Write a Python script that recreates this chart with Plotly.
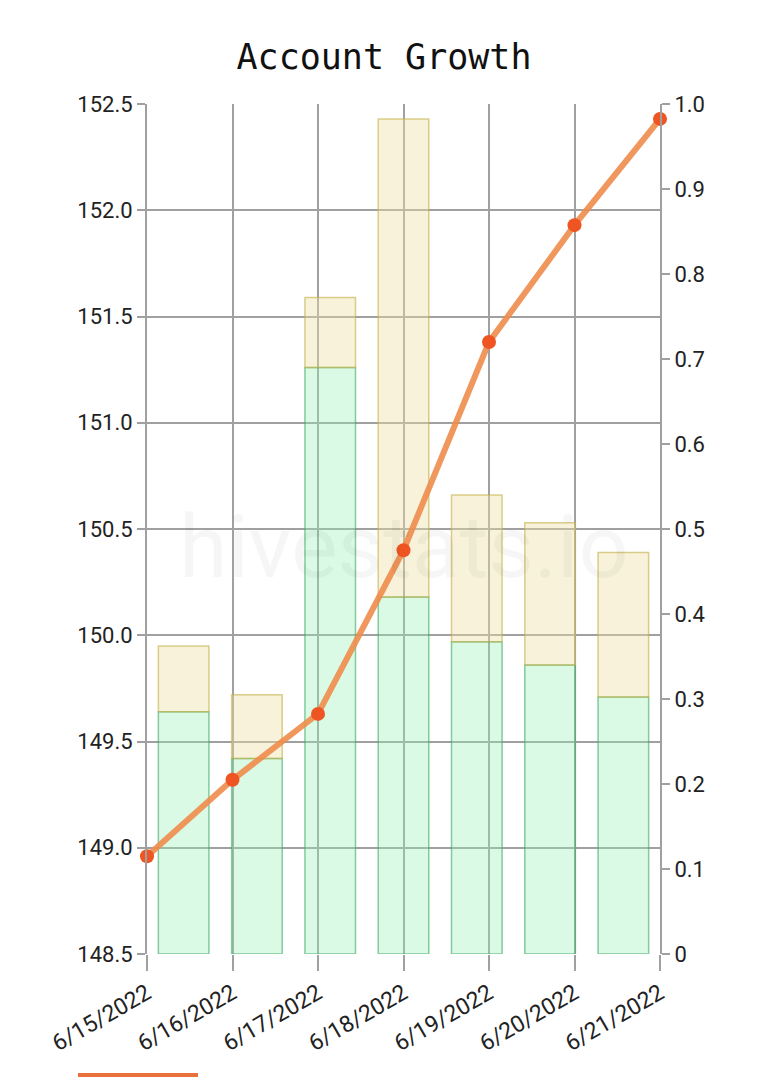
import plotly.graph_objects as go

dates = ["6/15/2022", "6/16/2022", "6/17/2022", "6/18/2022", "6/19/2022", "6/20/2022", "6/21/2022"]
account_value = [148.96, 149.32, 149.63, 150.40, 151.38, 151.93, 152.43]
green_top = [149.64, 149.42, 151.26, 150.18, 149.97, 149.86, 149.71]
yellow_top = [149.95, 149.72, 151.59, 152.43, 150.66, 150.53, 150.39]
base_value = 148.5
idx = list(range(len(dates)))

fig = go.Figure()
fig.add_trace(go.Bar(
    x=idx, y=[g - base_value for g in green_top], base=[base_value] * len(idx),
    width=0.69, marker=dict(color="rgba(150,240,180,0.35)",
                            line=dict(color="rgba(60,170,100,0.6)", width=1.5)),
    xaxis="x", yaxis="y", showlegend=False, hoverinfo="skip"))
fig.add_trace(go.Bar(
    x=idx, y=[y - g for y, g in zip(yellow_top, green_top)], base=green_top,
    width=0.69, marker=dict(color="rgba(235,222,160,0.4)",
                            line=dict(color="rgba(195,175,70,0.6)", width=1.5)),
    xaxis="x", yaxis="y", showlegend=False, hoverinfo="skip"))
fig.add_trace(go.Scatter(
    x=idx, y=account_value, mode="lines+markers", cliponaxis=False,
    line=dict(color="rgba(238,140,75,0.9)", width=6),
    marker=dict(color="#ee5522", size=14),
    xaxis="x2", yaxis="y", showlegend=False))
fig.add_trace(go.Scatter(x=[0], y=[0], xaxis="x2", yaxis="y2", mode="markers",
                         marker=dict(opacity=0), showlegend=False, hoverinfo="skip"))

grid = "#a0a0a0"
tf = dict(size=22, family="Roboto", color="#222")
fig.update_layout(
    width=768, height=1077,
    margin=dict(l=147, r=108, t=104, b=123),
    paper_bgcolor="white", plot_bgcolor="white",
    barmode="overlay",
    title=dict(text="Account Growth", x=0.5, xanchor="center", y=1 - 57 / 1077, yanchor="middle",
               font=dict(family="DejaVu Sans Mono", size=35, color="#111")),
    font=dict(family="Roboto", color="#222"),
    xaxis=dict(range=[-0.5, 6.5], showgrid=False, showticklabels=False, ticks="",
               zeroline=False, showline=False, fixedrange=True),
    xaxis2=dict(overlaying="x", range=[0, 6], tickmode="array", tickvals=idx, ticktext=dates,
                tickangle=-30, showgrid=True, gridcolor=grid, gridwidth=2,
                ticks="outside", ticklen=16, tickwidth=2, tickcolor=grid,
                tickfont=dict(size=23, family="Roboto", color="#222"), zeroline=False, side="bottom",
                anchor="y", showline=False),
    yaxis=dict(range=[148.5, 152.5], tickmode="array",
               tickvals=[148.5, 149.0, 149.5, 150.0, 150.5, 151.0, 151.5, 152.0, 152.5],
               ticktext=["148.5", "149.0", "149.5", "150.0", "150.5", "151.0", "151.5", "152.0", "152.5"],
               showgrid=True, gridcolor=grid, gridwidth=2, zeroline=False,
               ticks="outside", ticklen=8, tickwidth=2, tickcolor=grid,
               tickfont=tf, showline=True, linecolor=grid, linewidth=2),
    yaxis2=dict(range=[0, 1.0], overlaying="y", side="right", tickmode="array",
                tickvals=[0, 0.1, 0.2, 0.3, 0.4, 0.5, 0.6, 0.7, 0.8, 0.9, 1.0],
                ticktext=["0", "0.1", "0.2", "0.3", "0.4", "0.5", "0.6", "0.7", "0.8", "0.9", "1.0"],
                showgrid=False, zeroline=False, ticks="outside", ticklen=8, tickwidth=2,
                tickcolor=grid, tickfont=tf,
                showline=True, linecolor=grid, linewidth=2),
    annotations=[dict(text="hivestats.io", x=0.5, y=0.48, xref="paper", yref="paper",
                      showarrow=False, font=dict(size=88, family="Roboto", color="rgba(0,0,0,0.035)"))],
    shapes=[dict(type="line", xref="paper", yref="paper", x0=(78 - 147) / 513, x1=(198 - 147) / 513,
                 y0=-(1075 - 954) / 850, y1=-(1075 - 954) / 850,
                 line=dict(color="#e8703a", width=4))],
)
fig.write_html("out.html")
